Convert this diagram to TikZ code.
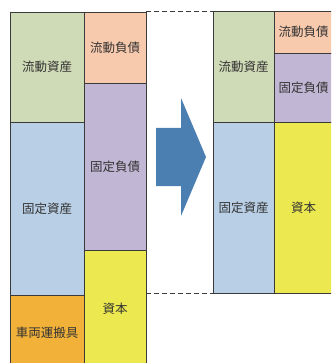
\documentclass[tikz,border=0pt]{standalone}
\usepackage{fontspec}
\setmainfont{Noto Sans CJK JP}
\definecolor{cgreen}{HTML}{CFDBB6}
\definecolor{cblue}{HTML}{B9CFE6}
\definecolor{corange}{HTML}{F2B23A}
\definecolor{cpeach}{HTML}{F8CAAD}
\definecolor{clav}{HTML}{C1B6D3}
\definecolor{cyellow}{HTML}{ECE84F}
\definecolor{carrow}{HTML}{4B7EB1}
\definecolor{cline}{HTML}{3A3A3A}
\tikzset{
  box/.style={draw=cline, line width=0.8pt, inner sep=0pt, font=\fontsize{12.5}{14}\selectfont, text=black!80},
  guide/.style={draw=cline, line width=0.8pt, dash pattern=on 5pt off 3pt},
}
\begin{document}
\begin{tikzpicture}[x=1pt,y=-1pt]
\useasboundingbox (0,0) rectangle (331,363);
\clip (0,0) rectangle (331,363);
% left block
\node[box, fill=cgreen, minimum width=74pt, minimum height=110.5pt] (lca) at (47,67.25) {流動資産};
\node[box, fill=cblue, minimum width=74pt, minimum height=172.5pt] (lfa) at (47,208.75) {固定資産};
\node[box, fill=corange, minimum width=74pt, minimum height=75pt] (lveh) at (47,332.5) {車両運搬具};
\node[box, fill=cpeach, minimum width=62pt, minimum height=71pt] (lcl) at (115,47.5) {流動負債};
\node[box, fill=clav, minimum width=62pt, minimum height=167pt] (lfl) at (115,166.5) {固定負債};
\node[box, fill=cyellow, minimum width=62pt, minimum height=118pt] (lcap) at (115,309) {資本};
% right block
\node[box, fill=cgreen, minimum width=61pt, minimum height=111.5pt] (rca) at (243.5,67) {流動資産};
\node[box, fill=cblue, minimum width=61pt, minimum height=170.5pt] (rfa) at (243.5,208) {固定資産};
\node[box, fill=cpeach, minimum width=59pt, minimum height=42pt] (rcl) at (303.5,32) {流動負債};
\node[box, fill=clav, minimum width=59pt, minimum height=69.5pt] (rfl) at (303.5,87.75) {固定負債};
\node[box, fill=cyellow, minimum width=59pt, minimum height=170.5pt] (rcap) at (303.5,208) {資本};
% dashed guides
\coordinate (gt1) at (146,11.5);
\coordinate (gt2) at (213,11.5);
\coordinate (gb1) at (146,293);
\coordinate (gb2) at (213,293);
\draw[guide] (gt1) -- (gt2);
\draw[guide] (gb1) -- (gb2);
% arrow
\fill[carrow] (156,128) -- (181,128) -- (181,98) -- (206,157) -- (181,216) -- (181,186) -- (156,186) -- cycle;
\end{tikzpicture}
\end{document}
